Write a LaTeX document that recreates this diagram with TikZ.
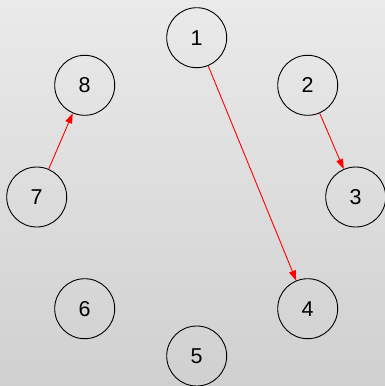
\documentclass[tikz,border=0pt]{standalone}
\usepackage{fontspec}
\setmainfont{Liberation Sans}
\usetikzlibrary{arrows.meta}
\definecolor{bgtop}{RGB}{234,234,234}
\definecolor{bgbot}{RGB}{208,208,208}
\begin{document}
\begin{tikzpicture}[x=1pt,y=-1pt,
  vertex/.style={circle,draw=black,line width=0.9pt,minimum size=60pt,inner sep=0pt,
    font=\fontsize{21.5}{25}\selectfont},
  link/.style={draw=red,line width=0.9pt,-{Triangle[length=10pt,width=7pt]}}]
  % background panel with vertical gradient
  \shade[top color=bgtop,bottom color=bgbot] (0,0) rectangle (385,386);
  \useasboundingbox (0,0) rectangle (385,386);
  % vertices placed around a ring
  \node[vertex] (n1) at (196.7,37.7) {1};
  \node[vertex] (n2) at (307.7,85.3) {2};
  \node[vertex] (n3) at (355.7,197) {3};
  \node[vertex] (n4) at (307.7,308.7) {4};
  \node[vertex] (n5) at (196.7,356) {5};
  \node[vertex] (n6) at (84.7,308.7) {6};
  \node[vertex] (n7) at (36.7,197) {7};
  \node[vertex] (n8) at (84.7,85.3) {8};
  % directed links
  \draw[link] (n1) -- (n4);
  \draw[link] (n2) -- (n3);
  \draw[link] (n7) -- (n8);
\end{tikzpicture}
\end{document}
